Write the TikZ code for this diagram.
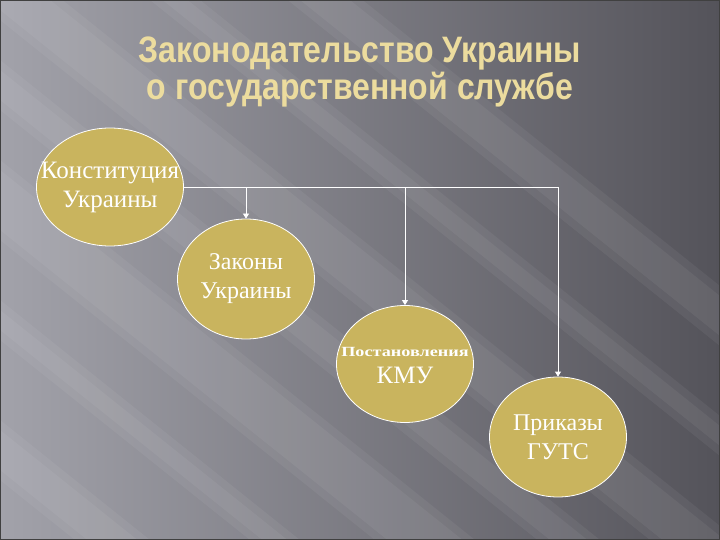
\documentclass[tikz,border=0pt]{standalone}
\usepackage{fontspec}
\setmainfont{Liberation Serif}
\newfontfamily\titlefont{Liberation Sans}
\usetikzlibrary{shapes.geometric,arrows.meta}

\definecolor{ovalfill}{RGB}{201,180,94}
\definecolor{titlegold}{RGB}{236,220,158}
\definecolor{bglight}{RGB}{162,162,170}
\definecolor{bgmid}{RGB}{110,109,116}
\definecolor{bgdark}{RGB}{84,83,90}

\tikzset{
  oval/.style={ellipse, draw=white, line width=0.8pt, fill=ovalfill,
    minimum width=137pt, minimum height=120pt, inner sep=0pt},
  ovaltext/.style={text=white, align=center, inner sep=0pt,
    font=\fontsize{24}{29}\selectfont},
  link/.style={white, line width=0.8pt, -{Triangle[length=5pt,width=6pt]}},
  titletext/.style={align=center, text=titlegold,
    font=\titlefont\bfseries\fontsize{32}{35}\selectfont}
}

\begin{document}
\begin{tikzpicture}[x=1pt,y=-1pt]

\useasboundingbox (0,0) rectangle (720,540);

% background
\begin{scope}
\clip (0,0) rectangle (720,540);
\shade[left color=bglight, middle color=bgmid, right color=bgdark] (0,0) rectangle (720,540);
\foreach \c/\w in {-330/60, -200/40, -90/70, 20/50, 120/80, 260/40, 380/60}
  {
  \fill[white, opacity=0.05] (-50,\c) -- (-50,\c+\w) -- (800,\c+\w+680) -- (800,\c+680) -- cycle;
  \fill[white, opacity=0.05] (-50,\c+10) -- (-50,\c+\w-10) -- (800,\c+\w+670) -- (800,\c+690) -- cycle;
  }
\end{scope}
\draw[black!75, line width=1.2pt] (0,0) rectangle (720,540);

% title
\node[titletext] (title) at (360,72)
  {\scalebox{1}[1.15]{Законодательство Украины}\\[1pt]\scalebox{1}[1.15]{о государственной службе}};

% ovals
\node[oval, minimum width=147pt, minimum height=118pt] (konst) at (110,187) {};
\node[oval] (zakony) at (246,279) {};
\node[oval, minimum height=117pt] (postan) at (405,364) {};
\node[oval] (prikaz) at (558,437) {};

\node[ovaltext, font=\fontsize{25}{29}\selectfont] at (konst) {Конституция\\Украины};
\node[ovaltext] at (zakony) {Законы\\Украины};
\node[ovaltext] at ([yshift=-2pt]postan) {\scalebox{1.3}[1]{\fontsize{14}{16}\selectfont\bfseries Постановления}\\[-2pt]\fontsize{25}{29}\selectfont КМУ};
\node[ovaltext] at (prikaz) {Приказы\\ГУТС};

% links
\draw[link] (konst.east) -| (zakony.north);
\draw[link] (konst.east) -| (postan.north);
\draw[link] (konst.east) -| (prikaz.north);

\end{tikzpicture}
\end{document}
